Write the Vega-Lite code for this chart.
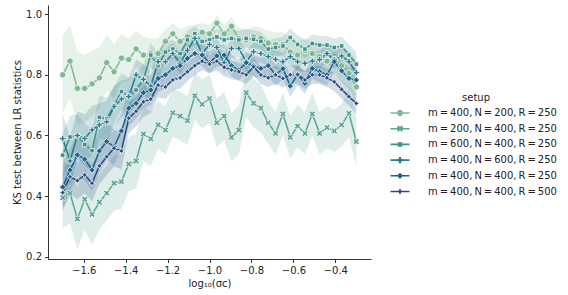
{
"$schema":"https://vega.github.io/schema/vega-lite/v6.json",
"width":323,"height":254,
"autosize":{"type":"none"},
"padding":{"left":48,"top":5,"right":197,"bottom":36},
"config":{"view":{"stroke":null},"font":"DejaVu Sans",
"axis":{"grid":false,"domainColor":"#333","tickColor":"#333","tickSize":3.5,"labelFontSize":10,"titleFontSize":10,"titleFontWeight":"normal","labelColor":"#222","titleColor":"#222","labelPadding":3,"labelFont":"DejaVu Sans","titleFont":"DejaVu Sans"}},
"data":{"values":[
{"setup":"m = 400, N = 200, R = 250","x":-1.7,"v":0.8,"lo":0.67,"hi":0.93},
{"setup":"m = 400, N = 200, R = 250","x":-1.665,"v":0.845,"lo":0.725,"hi":0.965},
{"setup":"m = 400, N = 200, R = 250","x":-1.63,"v":0.755,"lo":0.635,"hi":0.875},
{"setup":"m = 400, N = 200, R = 250","x":-1.595,"v":0.755,"lo":0.645,"hi":0.865},
{"setup":"m = 400, N = 200, R = 250","x":-1.56,"v":0.77,"lo":0.66,"hi":0.88},
{"setup":"m = 400, N = 200, R = 250","x":-1.525,"v":0.79,"lo":0.69,"hi":0.89},
{"setup":"m = 400, N = 200, R = 250","x":-1.49,"v":0.84,"lo":0.75,"hi":0.93},
{"setup":"m = 400, N = 200, R = 250","x":-1.455,"v":0.81,"lo":0.72,"hi":0.9},
{"setup":"m = 400, N = 200, R = 250","x":-1.42,"v":0.855,"lo":0.775,"hi":0.935},
{"setup":"m = 400, N = 200, R = 250","x":-1.385,"v":0.85,"lo":0.78,"hi":0.92},
{"setup":"m = 400, N = 200, R = 250","x":-1.35,"v":0.885,"lo":0.825,"hi":0.945},
{"setup":"m = 400, N = 200, R = 250","x":-1.315,"v":0.865,"lo":0.805,"hi":0.925},
{"setup":"m = 400, N = 200, R = 250","x":-1.28,"v":0.87,"lo":0.82,"hi":0.92},
{"setup":"m = 400, N = 200, R = 250","x":-1.245,"v":0.87,"lo":0.82,"hi":0.92},
{"setup":"m = 400, N = 200, R = 250","x":-1.21,"v":0.91,"lo":0.87,"hi":0.95},
{"setup":"m = 400, N = 200, R = 250","x":-1.175,"v":0.935,"lo":0.9,"hi":0.97},
{"setup":"m = 400, N = 200, R = 250","x":-1.14,"v":0.91,"lo":0.87,"hi":0.95},
{"setup":"m = 400, N = 200, R = 250","x":-1.105,"v":0.925,"lo":0.89,"hi":0.96},
{"setup":"m = 400, N = 200, R = 250","x":-1.07,"v":0.93,"lo":0.895,"hi":0.965},
{"setup":"m = 400, N = 200, R = 250","x":-1.035,"v":0.94,"lo":0.91,"hi":0.97},
{"setup":"m = 400, N = 200, R = 250","x":-1.0,"v":0.935,"lo":0.905,"hi":0.965},
{"setup":"m = 400, N = 200, R = 250","x":-0.965,"v":0.97,"lo":0.945,"hi":0.995},
{"setup":"m = 400, N = 200, R = 250","x":-0.93,"v":0.935,"lo":0.905,"hi":0.965},
{"setup":"m = 400, N = 200, R = 250","x":-0.895,"v":0.96,"lo":0.93,"hi":0.99},
{"setup":"m = 400, N = 200, R = 250","x":-0.86,"v":0.92,"lo":0.885,"hi":0.955},
{"setup":"m = 400, N = 200, R = 250","x":-0.825,"v":0.915,"lo":0.88,"hi":0.95},
{"setup":"m = 400, N = 200, R = 250","x":-0.79,"v":0.925,"lo":0.89,"hi":0.96},
{"setup":"m = 400, N = 200, R = 250","x":-0.755,"v":0.92,"lo":0.885,"hi":0.955},
{"setup":"m = 400, N = 200, R = 250","x":-0.72,"v":0.905,"lo":0.865,"hi":0.945},
{"setup":"m = 400, N = 200, R = 250","x":-0.685,"v":0.9,"lo":0.86,"hi":0.94},
{"setup":"m = 400, N = 200, R = 250","x":-0.65,"v":0.9,"lo":0.86,"hi":0.94},
{"setup":"m = 400, N = 200, R = 250","x":-0.615,"v":0.875,"lo":0.83,"hi":0.92},
{"setup":"m = 400, N = 200, R = 250","x":-0.58,"v":0.865,"lo":0.82,"hi":0.91},
{"setup":"m = 400, N = 200, R = 250","x":-0.545,"v":0.88,"lo":0.84,"hi":0.92},
{"setup":"m = 400, N = 200, R = 250","x":-0.51,"v":0.87,"lo":0.83,"hi":0.91},
{"setup":"m = 400, N = 200, R = 250","x":-0.475,"v":0.86,"lo":0.815,"hi":0.905},
{"setup":"m = 400, N = 200, R = 250","x":-0.44,"v":0.845,"lo":0.8,"hi":0.89},
{"setup":"m = 400, N = 200, R = 250","x":-0.405,"v":0.85,"lo":0.805,"hi":0.895},
{"setup":"m = 400, N = 200, R = 250","x":-0.37,"v":0.83,"lo":0.78,"hi":0.88},
{"setup":"m = 400, N = 200, R = 250","x":-0.335,"v":0.805,"lo":0.755,"hi":0.855},
{"setup":"m = 400, N = 200, R = 250","x":-0.3,"v":0.76,"lo":0.7,"hi":0.82},
{"setup":"m = 200, N = 400, R = 250","x":-1.7,"v":0.395,"lo":0.295,"hi":0.495},
{"setup":"m = 200, N = 400, R = 250","x":-1.665,"v":0.41,"lo":0.31,"hi":0.51},
{"setup":"m = 200, N = 400, R = 250","x":-1.63,"v":0.325,"lo":0.225,"hi":0.425},
{"setup":"m = 200, N = 400, R = 250","x":-1.595,"v":0.39,"lo":0.29,"hi":0.49},
{"setup":"m = 200, N = 400, R = 250","x":-1.56,"v":0.34,"lo":0.24,"hi":0.44},
{"setup":"m = 200, N = 400, R = 250","x":-1.525,"v":0.38,"lo":0.29,"hi":0.47},
{"setup":"m = 200, N = 400, R = 250","x":-1.49,"v":0.41,"lo":0.32,"hi":0.5},
{"setup":"m = 200, N = 400, R = 250","x":-1.455,"v":0.443,"lo":0.353,"hi":0.533},
{"setup":"m = 200, N = 400, R = 250","x":-1.42,"v":0.448,"lo":0.358,"hi":0.538},
{"setup":"m = 200, N = 400, R = 250","x":-1.385,"v":0.506,"lo":0.416,"hi":0.596},
{"setup":"m = 200, N = 400, R = 250","x":-1.35,"v":0.516,"lo":0.426,"hi":0.606},
{"setup":"m = 200, N = 400, R = 250","x":-1.315,"v":0.605,"lo":0.515,"hi":0.695},
{"setup":"m = 200, N = 400, R = 250","x":-1.28,"v":0.589,"lo":0.499,"hi":0.679},
{"setup":"m = 200, N = 400, R = 250","x":-1.245,"v":0.635,"lo":0.555,"hi":0.715},
{"setup":"m = 200, N = 400, R = 250","x":-1.21,"v":0.618,"lo":0.538,"hi":0.698},
{"setup":"m = 200, N = 400, R = 250","x":-1.175,"v":0.675,"lo":0.595,"hi":0.755},
{"setup":"m = 200, N = 400, R = 250","x":-1.14,"v":0.664,"lo":0.584,"hi":0.744},
{"setup":"m = 200, N = 400, R = 250","x":-1.105,"v":0.649,"lo":0.569,"hi":0.729},
{"setup":"m = 200, N = 400, R = 250","x":-1.07,"v":0.731,"lo":0.651,"hi":0.811},
{"setup":"m = 200, N = 400, R = 250","x":-1.035,"v":0.703,"lo":0.623,"hi":0.783},
{"setup":"m = 200, N = 400, R = 250","x":-1.0,"v":0.722,"lo":0.642,"hi":0.802},
{"setup":"m = 200, N = 400, R = 250","x":-0.965,"v":0.642,"lo":0.562,"hi":0.722},
{"setup":"m = 200, N = 400, R = 250","x":-0.93,"v":0.664,"lo":0.584,"hi":0.744},
{"setup":"m = 200, N = 400, R = 250","x":-0.895,"v":0.594,"lo":0.514,"hi":0.674},
{"setup":"m = 200, N = 400, R = 250","x":-0.86,"v":0.618,"lo":0.538,"hi":0.698},
{"setup":"m = 200, N = 400, R = 250","x":-0.825,"v":0.741,"lo":0.661,"hi":0.821},
{"setup":"m = 200, N = 400, R = 250","x":-0.79,"v":0.706,"lo":0.626,"hi":0.786},
{"setup":"m = 200, N = 400, R = 250","x":-0.755,"v":0.69,"lo":0.61,"hi":0.77},
{"setup":"m = 200, N = 400, R = 250","x":-0.72,"v":0.642,"lo":0.572,"hi":0.712},
{"setup":"m = 200, N = 400, R = 250","x":-0.685,"v":0.607,"lo":0.537,"hi":0.677},
{"setup":"m = 200, N = 400, R = 250","x":-0.65,"v":0.671,"lo":0.601,"hi":0.741},
{"setup":"m = 200, N = 400, R = 250","x":-0.615,"v":0.594,"lo":0.524,"hi":0.664},
{"setup":"m = 200, N = 400, R = 250","x":-0.58,"v":0.631,"lo":0.561,"hi":0.701},
{"setup":"m = 200, N = 400, R = 250","x":-0.545,"v":0.607,"lo":0.537,"hi":0.677},
{"setup":"m = 200, N = 400, R = 250","x":-0.51,"v":0.671,"lo":0.601,"hi":0.741},
{"setup":"m = 200, N = 400, R = 250","x":-0.475,"v":0.607,"lo":0.537,"hi":0.677},
{"setup":"m = 200, N = 400, R = 250","x":-0.44,"v":0.626,"lo":0.556,"hi":0.696},
{"setup":"m = 200, N = 400, R = 250","x":-0.405,"v":0.615,"lo":0.545,"hi":0.685},
{"setup":"m = 200, N = 400, R = 250","x":-0.37,"v":0.635,"lo":0.565,"hi":0.705},
{"setup":"m = 200, N = 400, R = 250","x":-0.335,"v":0.673,"lo":0.593,"hi":0.753},
{"setup":"m = 200, N = 400, R = 250","x":-0.3,"v":0.58,"lo":0.5,"hi":0.66},
{"setup":"m = 600, N = 400, R = 250","x":-1.7,"v":0.535,"lo":0.465,"hi":0.605},
{"setup":"m = 600, N = 400, R = 250","x":-1.665,"v":0.595,"lo":0.525,"hi":0.665},
{"setup":"m = 600, N = 400, R = 250","x":-1.63,"v":0.6,"lo":0.53,"hi":0.67},
{"setup":"m = 600, N = 400, R = 250","x":-1.595,"v":0.57,"lo":0.5,"hi":0.64},
{"setup":"m = 600, N = 400, R = 250","x":-1.56,"v":0.55,"lo":0.48,"hi":0.62},
{"setup":"m = 600, N = 400, R = 250","x":-1.525,"v":0.66,"lo":0.59,"hi":0.73},
{"setup":"m = 600, N = 400, R = 250","x":-1.49,"v":0.655,"lo":0.585,"hi":0.725},
{"setup":"m = 600, N = 400, R = 250","x":-1.455,"v":0.7,"lo":0.64,"hi":0.76},
{"setup":"m = 600, N = 400, R = 250","x":-1.42,"v":0.745,"lo":0.685,"hi":0.805},
{"setup":"m = 600, N = 400, R = 250","x":-1.385,"v":0.73,"lo":0.67,"hi":0.79},
{"setup":"m = 600, N = 400, R = 250","x":-1.35,"v":0.75,"lo":0.7,"hi":0.8},
{"setup":"m = 600, N = 400, R = 250","x":-1.315,"v":0.785,"lo":0.735,"hi":0.835},
{"setup":"m = 600, N = 400, R = 250","x":-1.28,"v":0.865,"lo":0.825,"hi":0.905},
{"setup":"m = 600, N = 400, R = 250","x":-1.245,"v":0.83,"lo":0.79,"hi":0.87},
{"setup":"m = 600, N = 400, R = 250","x":-1.21,"v":0.875,"lo":0.84,"hi":0.91},
{"setup":"m = 600, N = 400, R = 250","x":-1.175,"v":0.885,"lo":0.855,"hi":0.915},
{"setup":"m = 600, N = 400, R = 250","x":-1.14,"v":0.87,"lo":0.84,"hi":0.9},
{"setup":"m = 600, N = 400, R = 250","x":-1.105,"v":0.915,"lo":0.885,"hi":0.945},
{"setup":"m = 600, N = 400, R = 250","x":-1.07,"v":0.935,"lo":0.91,"hi":0.96},
{"setup":"m = 600, N = 400, R = 250","x":-1.035,"v":0.91,"lo":0.88,"hi":0.94},
{"setup":"m = 600, N = 400, R = 250","x":-1.0,"v":0.915,"lo":0.885,"hi":0.945},
{"setup":"m = 600, N = 400, R = 250","x":-0.965,"v":0.925,"lo":0.9,"hi":0.95},
{"setup":"m = 600, N = 400, R = 250","x":-0.93,"v":0.915,"lo":0.885,"hi":0.945},
{"setup":"m = 600, N = 400, R = 250","x":-0.895,"v":0.92,"lo":0.89,"hi":0.95},
{"setup":"m = 600, N = 400, R = 250","x":-0.86,"v":0.915,"lo":0.885,"hi":0.945},
{"setup":"m = 600, N = 400, R = 250","x":-0.825,"v":0.92,"lo":0.89,"hi":0.95},
{"setup":"m = 600, N = 400, R = 250","x":-0.79,"v":0.917,"lo":0.887,"hi":0.947},
{"setup":"m = 600, N = 400, R = 250","x":-0.755,"v":0.91,"lo":0.88,"hi":0.94},
{"setup":"m = 600, N = 400, R = 250","x":-0.72,"v":0.885,"lo":0.855,"hi":0.915},
{"setup":"m = 600, N = 400, R = 250","x":-0.685,"v":0.89,"lo":0.86,"hi":0.92},
{"setup":"m = 600, N = 400, R = 250","x":-0.65,"v":0.895,"lo":0.865,"hi":0.925},
{"setup":"m = 600, N = 400, R = 250","x":-0.615,"v":0.923,"lo":0.893,"hi":0.953},
{"setup":"m = 600, N = 400, R = 250","x":-0.58,"v":0.9,"lo":0.87,"hi":0.93},
{"setup":"m = 600, N = 400, R = 250","x":-0.545,"v":0.885,"lo":0.855,"hi":0.915},
{"setup":"m = 600, N = 400, R = 250","x":-0.51,"v":0.903,"lo":0.873,"hi":0.933},
{"setup":"m = 600, N = 400, R = 250","x":-0.475,"v":0.898,"lo":0.868,"hi":0.928},
{"setup":"m = 600, N = 400, R = 250","x":-0.44,"v":0.898,"lo":0.868,"hi":0.928},
{"setup":"m = 600, N = 400, R = 250","x":-0.405,"v":0.89,"lo":0.86,"hi":0.92},
{"setup":"m = 600, N = 400, R = 250","x":-0.37,"v":0.895,"lo":0.865,"hi":0.925},
{"setup":"m = 600, N = 400, R = 250","x":-0.335,"v":0.865,"lo":0.83,"hi":0.9},
{"setup":"m = 600, N = 400, R = 250","x":-0.3,"v":0.835,"lo":0.795,"hi":0.875},
{"setup":"m = 400, N = 600, R = 250","x":-1.7,"v":0.59,"lo":0.51,"hi":0.67},
{"setup":"m = 400, N = 600, R = 250","x":-1.665,"v":0.516,"lo":0.436,"hi":0.596},
{"setup":"m = 400, N = 600, R = 250","x":-1.63,"v":0.6,"lo":0.52,"hi":0.68},
{"setup":"m = 400, N = 600, R = 250","x":-1.595,"v":0.59,"lo":0.51,"hi":0.67},
{"setup":"m = 400, N = 600, R = 250","x":-1.56,"v":0.618,"lo":0.538,"hi":0.698},
{"setup":"m = 400, N = 600, R = 250","x":-1.525,"v":0.635,"lo":0.565,"hi":0.705},
{"setup":"m = 400, N = 600, R = 250","x":-1.49,"v":0.645,"lo":0.575,"hi":0.715},
{"setup":"m = 400, N = 600, R = 250","x":-1.455,"v":0.695,"lo":0.625,"hi":0.765},
{"setup":"m = 400, N = 600, R = 250","x":-1.42,"v":0.72,"lo":0.66,"hi":0.78},
{"setup":"m = 400, N = 600, R = 250","x":-1.385,"v":0.728,"lo":0.668,"hi":0.788},
{"setup":"m = 400, N = 600, R = 250","x":-1.35,"v":0.8,"lo":0.75,"hi":0.85},
{"setup":"m = 400, N = 600, R = 250","x":-1.315,"v":0.785,"lo":0.735,"hi":0.835},
{"setup":"m = 400, N = 600, R = 250","x":-1.28,"v":0.763,"lo":0.713,"hi":0.813},
{"setup":"m = 400, N = 600, R = 250","x":-1.245,"v":0.843,"lo":0.803,"hi":0.883},
{"setup":"m = 400, N = 600, R = 250","x":-1.21,"v":0.843,"lo":0.803,"hi":0.883},
{"setup":"m = 400, N = 600, R = 250","x":-1.175,"v":0.87,"lo":0.835,"hi":0.905},
{"setup":"m = 400, N = 600, R = 250","x":-1.14,"v":0.838,"lo":0.803,"hi":0.873},
{"setup":"m = 400, N = 600, R = 250","x":-1.105,"v":0.88,"lo":0.845,"hi":0.915},
{"setup":"m = 400, N = 600, R = 250","x":-1.07,"v":0.92,"lo":0.89,"hi":0.95},
{"setup":"m = 400, N = 600, R = 250","x":-1.035,"v":0.87,"lo":0.835,"hi":0.905},
{"setup":"m = 400, N = 600, R = 250","x":-1.0,"v":0.9,"lo":0.87,"hi":0.93},
{"setup":"m = 400, N = 600, R = 250","x":-0.965,"v":0.89,"lo":0.86,"hi":0.92},
{"setup":"m = 400, N = 600, R = 250","x":-0.93,"v":0.84,"lo":0.805,"hi":0.875},
{"setup":"m = 400, N = 600, R = 250","x":-0.895,"v":0.887,"lo":0.857,"hi":0.917},
{"setup":"m = 400, N = 600, R = 250","x":-0.86,"v":0.887,"lo":0.857,"hi":0.917},
{"setup":"m = 400, N = 600, R = 250","x":-0.825,"v":0.843,"lo":0.808,"hi":0.878},
{"setup":"m = 400, N = 600, R = 250","x":-0.79,"v":0.876,"lo":0.846,"hi":0.906},
{"setup":"m = 400, N = 600, R = 250","x":-0.755,"v":0.87,"lo":0.84,"hi":0.9},
{"setup":"m = 400, N = 600, R = 250","x":-0.72,"v":0.86,"lo":0.83,"hi":0.89},
{"setup":"m = 400, N = 600, R = 250","x":-0.685,"v":0.851,"lo":0.821,"hi":0.881},
{"setup":"m = 400, N = 600, R = 250","x":-0.65,"v":0.843,"lo":0.813,"hi":0.873},
{"setup":"m = 400, N = 600, R = 250","x":-0.615,"v":0.86,"lo":0.83,"hi":0.89},
{"setup":"m = 400, N = 600, R = 250","x":-0.58,"v":0.843,"lo":0.813,"hi":0.873},
{"setup":"m = 400, N = 600, R = 250","x":-0.545,"v":0.838,"lo":0.808,"hi":0.868},
{"setup":"m = 400, N = 600, R = 250","x":-0.51,"v":0.845,"lo":0.815,"hi":0.875},
{"setup":"m = 400, N = 600, R = 250","x":-0.475,"v":0.85,"lo":0.82,"hi":0.88},
{"setup":"m = 400, N = 600, R = 250","x":-0.44,"v":0.87,"lo":0.84,"hi":0.9},
{"setup":"m = 400, N = 600, R = 250","x":-0.405,"v":0.85,"lo":0.82,"hi":0.88},
{"setup":"m = 400, N = 600, R = 250","x":-0.37,"v":0.862,"lo":0.832,"hi":0.892},
{"setup":"m = 400, N = 600, R = 250","x":-0.335,"v":0.843,"lo":0.808,"hi":0.878},
{"setup":"m = 400, N = 600, R = 250","x":-0.3,"v":0.807,"lo":0.767,"hi":0.847},
{"setup":"m = 400, N = 400, R = 250","x":-1.7,"v":0.43,"lo":0.36,"hi":0.5},
{"setup":"m = 400, N = 400, R = 250","x":-1.665,"v":0.486,"lo":0.416,"hi":0.556},
{"setup":"m = 400, N = 400, R = 250","x":-1.63,"v":0.536,"lo":0.466,"hi":0.606},
{"setup":"m = 400, N = 400, R = 250","x":-1.595,"v":0.522,"lo":0.452,"hi":0.592},
{"setup":"m = 400, N = 400, R = 250","x":-1.56,"v":0.486,"lo":0.416,"hi":0.556},
{"setup":"m = 400, N = 400, R = 250","x":-1.525,"v":0.549,"lo":0.479,"hi":0.619},
{"setup":"m = 400, N = 400, R = 250","x":-1.49,"v":0.58,"lo":0.52,"hi":0.64},
{"setup":"m = 400, N = 400, R = 250","x":-1.455,"v":0.563,"lo":0.503,"hi":0.623},
{"setup":"m = 400, N = 400, R = 250","x":-1.42,"v":0.615,"lo":0.555,"hi":0.675},
{"setup":"m = 400, N = 400, R = 250","x":-1.385,"v":0.69,"lo":0.63,"hi":0.75},
{"setup":"m = 400, N = 400, R = 250","x":-1.35,"v":0.706,"lo":0.656,"hi":0.756},
{"setup":"m = 400, N = 400, R = 250","x":-1.315,"v":0.741,"lo":0.691,"hi":0.791},
{"setup":"m = 400, N = 400, R = 250","x":-1.28,"v":0.75,"lo":0.7,"hi":0.8},
{"setup":"m = 400, N = 400, R = 250","x":-1.245,"v":0.788,"lo":0.743,"hi":0.833},
{"setup":"m = 400, N = 400, R = 250","x":-1.21,"v":0.8,"lo":0.755,"hi":0.845},
{"setup":"m = 400, N = 400, R = 250","x":-1.175,"v":0.821,"lo":0.781,"hi":0.861},
{"setup":"m = 400, N = 400, R = 250","x":-1.14,"v":0.83,"lo":0.79,"hi":0.87},
{"setup":"m = 400, N = 400, R = 250","x":-1.105,"v":0.854,"lo":0.814,"hi":0.894},
{"setup":"m = 400, N = 400, R = 250","x":-1.07,"v":0.87,"lo":0.835,"hi":0.905},
{"setup":"m = 400, N = 400, R = 250","x":-1.035,"v":0.865,"lo":0.83,"hi":0.9},
{"setup":"m = 400, N = 400, R = 250","x":-1.0,"v":0.84,"lo":0.805,"hi":0.875},
{"setup":"m = 400, N = 400, R = 250","x":-0.965,"v":0.862,"lo":0.827,"hi":0.897},
{"setup":"m = 400, N = 400, R = 250","x":-0.93,"v":0.865,"lo":0.83,"hi":0.9},
{"setup":"m = 400, N = 400, R = 250","x":-0.895,"v":0.83,"lo":0.795,"hi":0.865},
{"setup":"m = 400, N = 400, R = 250","x":-0.86,"v":0.816,"lo":0.781,"hi":0.851},
{"setup":"m = 400, N = 400, R = 250","x":-0.825,"v":0.84,"lo":0.805,"hi":0.875},
{"setup":"m = 400, N = 400, R = 250","x":-0.79,"v":0.83,"lo":0.795,"hi":0.865},
{"setup":"m = 400, N = 400, R = 250","x":-0.755,"v":0.821,"lo":0.786,"hi":0.856},
{"setup":"m = 400, N = 400, R = 250","x":-0.72,"v":0.83,"lo":0.795,"hi":0.865},
{"setup":"m = 400, N = 400, R = 250","x":-0.685,"v":0.8,"lo":0.765,"hi":0.835},
{"setup":"m = 400, N = 400, R = 250","x":-0.65,"v":0.82,"lo":0.785,"hi":0.855},
{"setup":"m = 400, N = 400, R = 250","x":-0.615,"v":0.763,"lo":0.728,"hi":0.798},
{"setup":"m = 400, N = 400, R = 250","x":-0.58,"v":0.8,"lo":0.765,"hi":0.835},
{"setup":"m = 400, N = 400, R = 250","x":-0.545,"v":0.772,"lo":0.737,"hi":0.807},
{"setup":"m = 400, N = 400, R = 250","x":-0.51,"v":0.821,"lo":0.786,"hi":0.856},
{"setup":"m = 400, N = 400, R = 250","x":-0.475,"v":0.81,"lo":0.775,"hi":0.845},
{"setup":"m = 400, N = 400, R = 250","x":-0.44,"v":0.8,"lo":0.765,"hi":0.835},
{"setup":"m = 400, N = 400, R = 250","x":-0.405,"v":0.843,"lo":0.808,"hi":0.878},
{"setup":"m = 400, N = 400, R = 250","x":-0.37,"v":0.813,"lo":0.778,"hi":0.848},
{"setup":"m = 400, N = 400, R = 250","x":-0.335,"v":0.788,"lo":0.753,"hi":0.823},
{"setup":"m = 400, N = 400, R = 250","x":-0.3,"v":0.783,"lo":0.743,"hi":0.823},
{"setup":"m = 400, N = 400, R = 500","x":-1.7,"v":0.412,"lo":0.352,"hi":0.472},
{"setup":"m = 400, N = 400, R = 500","x":-1.665,"v":0.464,"lo":0.404,"hi":0.524},
{"setup":"m = 400, N = 400, R = 500","x":-1.63,"v":0.451,"lo":0.391,"hi":0.511},
{"setup":"m = 400, N = 400, R = 500","x":-1.595,"v":0.47,"lo":0.41,"hi":0.53},
{"setup":"m = 400, N = 400, R = 500","x":-1.56,"v":0.443,"lo":0.383,"hi":0.503},
{"setup":"m = 400, N = 400, R = 500","x":-1.525,"v":0.5,"lo":0.44,"hi":0.56},
{"setup":"m = 400, N = 400, R = 500","x":-1.49,"v":0.53,"lo":0.47,"hi":0.59},
{"setup":"m = 400, N = 400, R = 500","x":-1.455,"v":0.558,"lo":0.498,"hi":0.618},
{"setup":"m = 400, N = 400, R = 500","x":-1.42,"v":0.549,"lo":0.489,"hi":0.609},
{"setup":"m = 400, N = 400, R = 500","x":-1.385,"v":0.657,"lo":0.607,"hi":0.707},
{"setup":"m = 400, N = 400, R = 500","x":-1.35,"v":0.68,"lo":0.63,"hi":0.73},
{"setup":"m = 400, N = 400, R = 500","x":-1.315,"v":0.711,"lo":0.661,"hi":0.761},
{"setup":"m = 400, N = 400, R = 500","x":-1.28,"v":0.72,"lo":0.675,"hi":0.765},
{"setup":"m = 400, N = 400, R = 500","x":-1.245,"v":0.766,"lo":0.726,"hi":0.806},
{"setup":"m = 400, N = 400, R = 500","x":-1.21,"v":0.76,"lo":0.72,"hi":0.8},
{"setup":"m = 400, N = 400, R = 500","x":-1.175,"v":0.783,"lo":0.748,"hi":0.818},
{"setup":"m = 400, N = 400, R = 500","x":-1.14,"v":0.79,"lo":0.755,"hi":0.825},
{"setup":"m = 400, N = 400, R = 500","x":-1.105,"v":0.81,"lo":0.78,"hi":0.84},
{"setup":"m = 400, N = 400, R = 500","x":-1.07,"v":0.83,"lo":0.8,"hi":0.86},
{"setup":"m = 400, N = 400, R = 500","x":-1.035,"v":0.845,"lo":0.815,"hi":0.875},
{"setup":"m = 400, N = 400, R = 500","x":-1.0,"v":0.835,"lo":0.805,"hi":0.865},
{"setup":"m = 400, N = 400, R = 500","x":-0.965,"v":0.845,"lo":0.815,"hi":0.875},
{"setup":"m = 400, N = 400, R = 500","x":-0.93,"v":0.825,"lo":0.795,"hi":0.855},
{"setup":"m = 400, N = 400, R = 500","x":-0.895,"v":0.816,"lo":0.786,"hi":0.846},
{"setup":"m = 400, N = 400, R = 500","x":-0.86,"v":0.81,"lo":0.78,"hi":0.84},
{"setup":"m = 400, N = 400, R = 500","x":-0.825,"v":0.8,"lo":0.77,"hi":0.83},
{"setup":"m = 400, N = 400, R = 500","x":-0.79,"v":0.826,"lo":0.796,"hi":0.856},
{"setup":"m = 400, N = 400, R = 500","x":-0.755,"v":0.8,"lo":0.77,"hi":0.83},
{"setup":"m = 400, N = 400, R = 500","x":-0.72,"v":0.79,"lo":0.76,"hi":0.82},
{"setup":"m = 400, N = 400, R = 500","x":-0.685,"v":0.8,"lo":0.77,"hi":0.83},
{"setup":"m = 400, N = 400, R = 500","x":-0.65,"v":0.788,"lo":0.758,"hi":0.818},
{"setup":"m = 400, N = 400, R = 500","x":-0.615,"v":0.8,"lo":0.77,"hi":0.83},
{"setup":"m = 400, N = 400, R = 500","x":-0.58,"v":0.801,"lo":0.771,"hi":0.831},
{"setup":"m = 400, N = 400, R = 500","x":-0.545,"v":0.783,"lo":0.753,"hi":0.813},
{"setup":"m = 400, N = 400, R = 500","x":-0.51,"v":0.8,"lo":0.77,"hi":0.83},
{"setup":"m = 400, N = 400, R = 500","x":-0.475,"v":0.8,"lo":0.77,"hi":0.83},
{"setup":"m = 400, N = 400, R = 500","x":-0.44,"v":0.79,"lo":0.76,"hi":0.82},
{"setup":"m = 400, N = 400, R = 500","x":-0.405,"v":0.777,"lo":0.747,"hi":0.807},
{"setup":"m = 400, N = 400, R = 500","x":-0.37,"v":0.752,"lo":0.722,"hi":0.782},
{"setup":"m = 400, N = 400, R = 500","x":-0.335,"v":0.728,"lo":0.698,"hi":0.758},
{"setup":"m = 400, N = 400, R = 500","x":-0.3,"v":0.706,"lo":0.671,"hi":0.741}
]},
"encoding":{
"x":{"field":"x","type":"quantitative","scale":{"domain":[-1.77,-0.23],"nice":false,"zero":false},"axis":{"title":"log₁₀(σc)","values":[-1.6,-1.4,-1.2,-1.0,-0.8,-0.6,-0.4],"format":".1f","titlePadding":3}}
},
"layer":[
{"mark":{"type":"area","opacity":0.2},"encoding":{"y":{"field":"lo","type":"quantitative","scale":{"domain":[0.193,1.03],"nice":false,"zero":false},"axis":{"title":"KS test between LR statistics","values":[0.2,0.3,0.4,0.5,0.6,0.7,0.8,0.9,1.0],"format":".1f","titlePadding":3}},"y2":{"field":"hi"},
"color":{"field":"setup","type":"nominal","legend":null,"scale":{"range":["#59a590","#7dba91","#1c6488","#254b7f","#287a8c","#40908e"]}}}},
{"mark":{"type":"line","strokeWidth":1.5},"encoding":{"y":{"field":"v","type":"quantitative"},"color":{"field":"setup","type":"nominal","legend":null}}},
{"transform":[{"filter":{"field":"setup","equal":"m = 400, N = 200, R = 250"}}],"mark":{"type":"point","filled":true,"opacity":1,"shape":"circle","size":40,"stroke":"white","strokeWidth":0.75},"encoding":{"y":{"field":"v","type":"quantitative"},"color":{"field":"setup","type":"nominal","legend":null}}},
{"transform":[{"filter":{"field":"setup","equal":"m = 200, N = 400, R = 250"}}],"mark":{"type":"point","filled":true,"opacity":1,"shape":"M-0.5,-1L0,-0.5L0.5,-1L1,-0.5L0.5,0L1,0.5L0.5,1L0,0.5L-0.5,1L-1,0.5L-0.5,0L-1,-0.5Z","size":40,"stroke":"white","strokeWidth":0.75},"encoding":{"y":{"field":"v","type":"quantitative"},"color":{"field":"setup","type":"nominal","legend":null}}},
{"transform":[{"filter":{"field":"setup","equal":"m = 600, N = 400, R = 250"}}],"mark":{"type":"point","filled":true,"opacity":1,"shape":"M-0.707,-0.707L0.707,-0.707L0.707,0.707L-0.707,0.707Z","size":40,"stroke":"white","strokeWidth":0.75},"encoding":{"y":{"field":"v","type":"quantitative"},"color":{"field":"setup","type":"nominal","legend":null}}},
{"transform":[{"filter":{"field":"setup","equal":"m = 400, N = 600, R = 250"}}],"mark":{"type":"point","filled":true,"opacity":1,"shape":"M-0.333,-1L0.333,-1L0.333,-0.333L1,-0.333L1,0.333L0.333,0.333L0.333,1L-0.333,1L-0.333,0.333L-1,0.333L-1,-0.333L-0.333,-0.333Z","size":40,"stroke":"white","strokeWidth":0.75},"encoding":{"y":{"field":"v","type":"quantitative"},"color":{"field":"setup","type":"nominal","legend":null}}},
{"transform":[{"filter":{"field":"setup","equal":"m = 400, N = 400, R = 250"}}],"mark":{"type":"point","filled":true,"opacity":1,"shape":"M0,-1L1,0L0,1L-1,0Z","size":40,"stroke":"white","strokeWidth":0.75},"encoding":{"y":{"field":"v","type":"quantitative"},"color":{"field":"setup","type":"nominal","legend":null}}},
{"transform":[{"filter":{"field":"setup","equal":"m = 400, N = 400, R = 500"}}],"mark":{"type":"point","filled":true,"opacity":1,"shape":"M0,-1L0.354,-0.354L1,0L0.354,0.354L0,1L-0.354,0.354L-1,0L-0.354,-0.354Z","size":40,"stroke":"white","strokeWidth":0.75},"encoding":{"y":{"field":"v","type":"quantitative"},"color":{"field":"setup","type":"nominal","legend":null}}},
{"transform":[{"filter":{"field":"x","gt":100}}],"mark":{"type":"point","filled":true,"opacity":1},"encoding":{"y":{"field":"v","type":"quantitative"},
"fill":{"field":"legendkey","type":"nominal","scale":{"domain":["m\u2009=\u2009400,\u2009N\u2009=\u2009200,\u2009R\u2009=\u2009250","m\u2009=\u2009200,\u2009N\u2009=\u2009400,\u2009R\u2009=\u2009250","m\u2009=\u2009600,\u2009N\u2009=\u2009400,\u2009R\u2009=\u2009250","m\u2009=\u2009400,\u2009N\u2009=\u2009600,\u2009R\u2009=\u2009250","m\u2009=\u2009400,\u2009N\u2009=\u2009400,\u2009R\u2009=\u2009250","m\u2009=\u2009400,\u2009N\u2009=\u2009400,\u2009R\u2009=\u2009500"],"range":["#7dba91","#59a590","#40908e","#287a8c","#1c6488","#254b7f"]},
"legend":{"title":"setup","orient":"none","legendX":347,"legendY":88,"symbolSize":40,"labelOffset":23,"rowPadding":5.7,"titleAnchor":"middle","titleFontWeight":"normal","titleFontSize":10,"labelFontSize":10,"labelFont":"DejaVu Sans","titleFont":"DejaVu Sans","labelColor":"#222","titleColor":"#222","padding":0,"titlePadding":5,"symbolStrokeWidth":0}},
"shape":{"field":"legendkey","type":"nominal","scale":{"domain":["m\u2009=\u2009400,\u2009N\u2009=\u2009200,\u2009R\u2009=\u2009250","m\u2009=\u2009200,\u2009N\u2009=\u2009400,\u2009R\u2009=\u2009250","m\u2009=\u2009600,\u2009N\u2009=\u2009400,\u2009R\u2009=\u2009250","m\u2009=\u2009400,\u2009N\u2009=\u2009600,\u2009R\u2009=\u2009250","m\u2009=\u2009400,\u2009N\u2009=\u2009400,\u2009R\u2009=\u2009250","m\u2009=\u2009400,\u2009N\u2009=\u2009400,\u2009R\u2009=\u2009500"],"range":[
"M-3,-0.25L3,-0.25L3,0.25L-3,0.25ZM1,0L0.866,0.5L0.5,0.866L0,1L-0.5,0.866L-0.866,0.5L-1,0L-0.866,-0.5L-0.5,-0.866L0,-1L0.5,-0.866L0.866,-0.5Z",
"M-3,-0.25L3,-0.25L3,0.25L-3,0.25ZM-0.5,-1L0,-0.5L0.5,-1L1,-0.5L0.5,0L1,0.5L0.5,1L0,0.5L-0.5,1L-1,0.5L-0.5,0L-1,-0.5Z",
"M-3,-0.25L3,-0.25L3,0.25L-3,0.25ZM-0.707,-0.707L0.707,-0.707L0.707,0.707L-0.707,0.707Z",
"M-3,-0.25L3,-0.25L3,0.25L-3,0.25ZM-0.333,-1L0.333,-1L0.333,-0.333L1,-0.333L1,0.333L0.333,0.333L0.333,1L-0.333,1L-0.333,0.333L-1,0.333L-1,-0.333L-0.333,-0.333Z",
"M-3,-0.25L3,-0.25L3,0.25L-3,0.25ZM0,-1L1,0L0,1L-1,0Z",
"M-3,-0.25L3,-0.25L3,0.25L-3,0.25ZM0,-1L0.354,-0.354L1,0L0.354,0.354L0,1L-0.354,0.354L-1,0L-0.354,-0.354Z"]},
"legend":{"title":"setup","orient":"none","legendX":347,"legendY":88,"symbolSize":40,"labelOffset":23,"rowPadding":5.7,"titleAnchor":"middle","titleFontWeight":"normal","titleFontSize":10,"labelFontSize":10,"labelFont":"DejaVu Sans","titleFont":"DejaVu Sans","labelColor":"#222","titleColor":"#222","padding":0,"titlePadding":5,"symbolStrokeWidth":0}}}}
]
}
